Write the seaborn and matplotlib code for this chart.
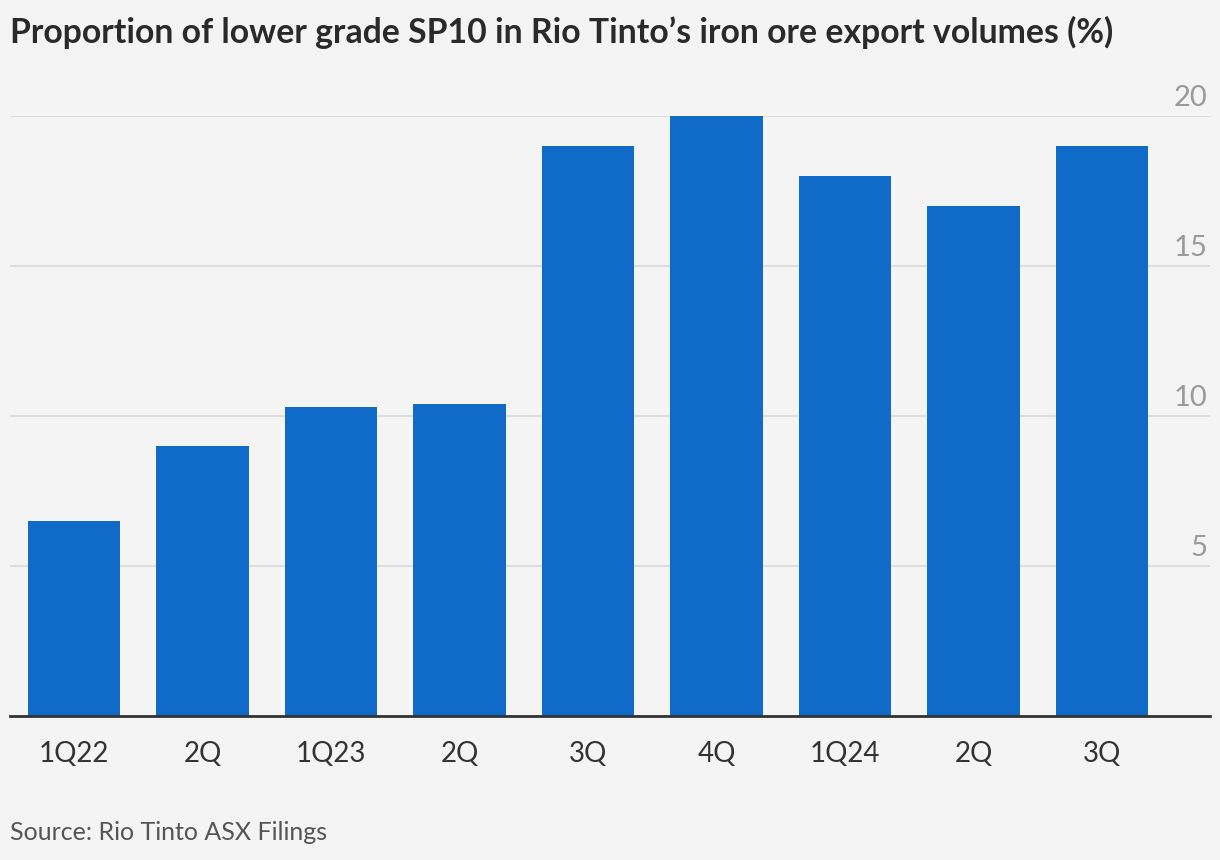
import matplotlib
matplotlib.use("Agg")
import matplotlib.pyplot as plt
import matplotlib.transforms as mtransforms
import pandas as pd
import seaborn as sns

# data
quarters = ["1Q22", "2Q", "1Q23", "2Q", "3Q", "4Q", "1Q24", "2Q", "3Q"]
sp10_share = [6.5, 9.0, 10.3, 10.4, 19.0, 20.0, 18.0, 17.0, 19.0]
y_ticks = [5, 10, 15, 20]

BG = "#f4f4f4"
BAR = "#106bc8"

sns.set_theme(style="white")
plt.rcParams["font.family"] = ["Lato", "DejaVu Sans"]

df = pd.DataFrame({"pos": range(len(quarters)), "share": sp10_share})

fig = plt.figure(figsize=(12.2, 8.6), dpi=100, facecolor=BG)
ax = fig.add_axes([10 / 1220, 144 / 860, 1200 / 1220, 600 / 860])
ax.set_facecolor(BG)

sns.barplot(data=df, x="pos", y="share", color=BAR, saturation=1,
            width=0.72, linewidth=0, ax=ax, zorder=3)

ax.set_xlim(-0.5, 8.84)
ax.set_ylim(0, 20)
ax.set_xticks(range(len(quarters)))
ax.set_xticklabels(quarters, fontsize=20, color="#333333")
ax.tick_params(axis="x", length=8, width=1.5, color="#333333", pad=10, direction="out")
ax.set_xlabel("")
ax.set_ylabel("")

# horizontal grid with labels sitting above the lines on the right
ax.set_yticks([])
for v in y_ticks:
    ax.axhline(v, color="#dddddd", linewidth=1.5, zorder=1)
trans = mtransforms.blended_transform_factory(ax.transAxes, ax.transData) + \
    mtransforms.ScaledTranslation(0, 5 / 100, fig.dpi_scale_trans)
for v in y_ticks:
    ax.text(0.998, v, str(v), transform=trans, ha="right", va="bottom",
            fontsize=21, color="#9a9a9a", clip_on=False)

for s in ["top", "right", "left"]:
    ax.spines[s].set_visible(False)
ax.spines["bottom"].set_color("#333333")
ax.spines["bottom"].set_linewidth(2)
ax.spines["bottom"].set_zorder(4)

fig.text(10 / 1220, 1 - 32 / 860, "Proportion of lower grade SP10 in Rio Tinto\u2019s iron ore export volumes (%)",
         fontsize=24.3, fontweight="bold", color="#2a2a2a", ha="left", va="center")
fig.text(10 / 1220, 1 - 832 / 860, "Source: Rio Tinto ASX Filings",
         fontsize=18, color="#555555", ha="left", va="center")

fig.savefig("out.png", dpi=100, facecolor=BG)
